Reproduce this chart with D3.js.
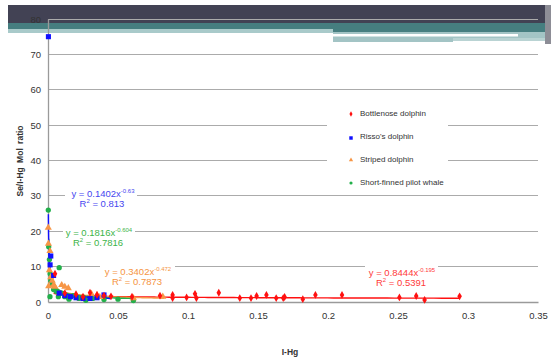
<!DOCTYPE html>
<html><head><meta charset="utf-8">
<script src="https://cdn.jsdelivr.net/npm/d3@7"></script>
<style>html,body{margin:0;padding:0;background:#fff;}svg{display:block;font-family:"Liberation Sans",Arial,sans-serif;}</style>
</head><body><svg id="c" width="551" height="360"></svg>
<script>
// ---- data ----
const seriesNames = ["Bottlenose  dolphin", "Risso's dolphin", "Striped  dolphin", "Short-finned  pilot whale"];
const xTicks = [0, 0.05, 0.1, 0.15, 0.2, 0.25, 0.3, 0.35];
const yTicks = [0, 10, 20, 30, 40, 50, 60, 70, 80];
const bottlenoseX = [0.005, 0.012, 0.02, 0.025, 0.03, 0.035, 0.04, 0.045, 0.06, 0.08, 0.089, 0.089, 0.099, 0.105, 0.106, 0.122, 0.137, 0.145, 0.149, 0.156, 0.163, 0.168, 0.169, 0.182, 0.191, 0.210, 0.251, 0.263, 0.269, 0.294];
const bottlenoseY = [8.0, 2.5, 2.2, 1.5, 2.6, 2.0, 1.8, 1.6, 1.5, 1.8, 2.0, 1.1, 1.3, 2.3, 1.1, 2.6, 1.1, 1.1, 1.7, 2.0, 1.1, 1.1, 1.4, 0.8, 2.0, 2.0, 1.3, 1.7, 0.6, 1.6];
const rissoX = [0.0003, 0.0015, 0.002, 0.004, 0.008, 0.012, 0.016, 0.02, 0.025, 0.03, 0.035, 0.04];
const rissoY = [75.0, 10.5, 13.0, 7.5, 2.5, 1.8, 1.5, 1.2, 1.0, 1.0, 1.2, 2.0];
const stripedX = [0.0002, 0.0003, 0.001, 0.0014, 0.002, 0.003, 0.0005, 0.004, 0.005, 0.0098, 0.012, 0.0145, 0.031, 0.035, 0.037, 0.061, 0.082];
const stripedY = [21.0, 16.5, 9.0, 14.4, 7.0, 6.0, 4.5, 4.8, 4.3, 4.8, 4.3, 3.9, 2.3, 2.0, 1.4, 1.1, 1.5];
const pilotX = [0.0002, 0.0005, 0.001, 0.0014, 0.0015, 0.002, 0.003, 0.004, 0.006, 0.0074, 0.008, 0.01, 0.012, 0.0145, 0.015, 0.018, 0.022, 0.025, 0.027, 0.032, 0.04, 0.05, 0.061];
const pilotY = [26.0, 15.6, 12.0, 1.5, 8.0, 6.0, 5.0, 3.5, 3.0, 1.5, 9.7, 2.5, 1.5, 1.3, 0.8, 1.8, 1.0, 1.4, 0.5, 1.0, 0.7, 0.8, 0.4];
const fitA = [0.8444, 0.1402, 0.3402, 0.1816];
const fitB = [-0.195, -0.63, -0.472, -0.604];
const fitR2 = ["0.5391", "0.813", "0.7873", "0.7816"];
const fitXmin = [0.004, 0.00027, 0.0008, 0.0005];
const fitXmax = [0.294, 0.045, 0.083, 0.062];

// ---- style / layout ----
const colors = ["#ff1010", "#1010ff", "#f79646", "#22b04a"];
const eqColors = ["#ff3a3a", "#4646f0", "#f59442", "#3cb448"];
const shapes = [d3.symbolDiamond, d3.symbolSquare, d3.symbolTriangle, d3.symbolCircle];
const markerSize = [18, 26, 22, 22];

const svg = d3.select("#c");

// header decoration (slide template)
const deco = svg.append("g");
deco.append("rect").attr("x", 8).attr("y", 5).attr("width", 543).attr("height", 18).attr("fill", "#424254");
deco.append("rect").attr("x", 8).attr("y", 23).attr("width", 537).attr("height", 6).attr("fill", "#467e80");
deco.append("rect").attr("x", 333).attr("y", 29).attr("width", 212).attr("height", 3).attr("fill", "#467e80");
deco.append("rect").attr("x", 8).attr("y", 29).attr("width", 325).attr("height", 4).attr("fill", "#a9caca");
deco.append("rect").attr("x", 333).attr("y", 32).attr("width", 212).attr("height", 10).attr("fill", "#a3c4c5");
deco.append("rect").attr("x", 453).attr("y", 38).attr("width", 92).attr("height", 4).attr("fill", "#ffffff");
deco.append("rect").attr("x", 453).attr("y", 38).attr("width", 92).attr("height", 3).attr("fill", "#b9d3d3");
deco.append("rect").attr("x", 333).attr("y", 34).attr("width", 185).attr("height", 2.5).attr("fill", "#ffffff");
deco.append("rect").attr("x", 545).attr("y", 5).attr("width", 6).attr("height", 39).attr("fill", "#8d8d96");

const x = d3.scaleLinear().domain([0, 0.35]).range([48, 538]);
const y = d3.scaleLinear().domain([0, 80]).range([302, 19]);

// gridlines
svg.append("g").selectAll("line").data(yTicks.filter(d => d > 0)).join("line")
  .attr("x1", x(0)).attr("x2", x(0.35)).attr("y1", d => y(d)).attr("y2", d => y(d))
  .attr("stroke", "#ababab").attr("stroke-width", 1).attr("shape-rendering", "crispEdges");

// axes
const yAxis = svg.append("g").attr("transform", `translate(${x(0)},0)`)
  .call(d3.axisLeft(y).tickValues(yTicks).tickSize(0).tickPadding(7).tickFormat(d3.format("d")));
const xAxis = svg.append("g").attr("transform", `translate(0,${y(0)})`)
  .call(d3.axisBottom(x).tickValues(xTicks).tickSize(0).tickPadding(10).tickFormat(d => d === 0 ? "0" : String(d)));
[xAxis, yAxis].forEach(a => {
  a.select(".domain").attr("stroke", "#9a9a9a").attr("stroke-width", 1.3);
  a.selectAll("text").attr("font-size", "9.5px").attr("fill", "#333").attr("font-family", "'Liberation Sans',Arial,sans-serif");
});

// trend lines
const line = d3.line().x(d => x(d[0])).y(d => y(d[1]));
const drawOrder = [0, 2, 3, 1];
drawOrder.forEach(i => {
  const lo = Math.log(fitXmin[i]), hi = Math.log(fitXmax[i]);
  const pts = d3.range(0, 201).map(k => {
    const xv = Math.exp(lo + (hi - lo) * k / 200);
    return [xv, fitA[i] * Math.pow(xv, fitB[i])];
  });
  svg.append("path").datum(pts).attr("d", line).attr("fill", "none")
    .attr("stroke", colors[i]).attr("stroke-width", 1.4);
});

// points
const seriesX = [bottlenoseX, rissoX, stripedX, pilotX];
const seriesY = [bottlenoseY, rissoY, stripedY, pilotY];
[3, 2, 1, 0].forEach(i => {
  const pts = seriesX[i].map((v, k) => [v, seriesY[i][k]]);
  svg.append("g").selectAll("path").data(pts).join("path")
    .attr("transform", d => `translate(${x(d[0])},${y(d[1])})`)
    .attr("d", d3.symbol().type(shapes[i]).size(markerSize[i]))
    .attr("fill", colors[i]);
});

// equation labels
const eqPos = [[402, 272], [103, 193], [138, 271], [99, 232]];
const eqBox = [[365, 263, 73, 24], [65, 186, 72, 22], [100, 262, 75, 24], [63, 224, 72, 22]];
[0, 1, 2, 3].forEach(i => {
  const b = eqBox[i];
  svg.append("rect").attr("x", b[0]).attr("y", b[1]).attr("width", b[2]).attr("height", b[3]).attr("fill", "#fff");
  const t = svg.append("text").attr("x", eqPos[i][0]).attr("y", eqPos[i][1] + 3.5)
    .attr("text-anchor", "middle").attr("font-size", "9.5px").attr("fill", eqColors[i]);
  t.append("tspan").text(`y = ${fitA[i]}x`);
  t.append("tspan").attr("dy", -4).attr("font-size", "6px").text(String(fitB[i]));
  const r = svg.append("text").attr("x", eqPos[i][0] - 1).attr("y", eqPos[i][1] + 14)
    .attr("text-anchor", "middle").attr("font-size", "9.5px").attr("fill", eqColors[i]);
  r.append("tspan").text("R");
  r.append("tspan").attr("dy", -4).attr("font-size", "6px").text("2");
  r.append("tspan").attr("dy", 4).text(` = ${fitR2[i]}`);
});

// legend
const lg = svg.append("g");
lg.append("rect").attr("x", 327).attr("y", 100).attr("width", 121).attr("height", 90).attr("fill", "#fff");
seriesNames.forEach((n, i) => {
  const ly = 113 + i * 23;
  lg.append("path").attr("transform", `translate(351,${ly + (i === 1 ? 2 : 1)})`)
    .attr("d", d3.symbol().type(shapes[i]).size(i === 1 ? 12 : 8)).attr("fill", colors[i]);
  lg.append("text").attr("x", 360).attr("y", ly + 3).attr("font-size", "8px").attr("fill", "#333").text(n);
});

// axis titles
svg.append("text").attr("x", 290).attr("y", 355).attr("text-anchor", "middle")
  .attr("font-size", "8.5px").attr("font-weight", "bold").attr("fill", "#333").text("I-Hg");
svg.append("text").attr("transform", "translate(23,161) rotate(-90)").attr("text-anchor", "middle")
  .attr("font-size", "8.5px").attr("font-weight", "bold").attr("fill", "#333").attr("word-spacing", "2px").text("Se/I-Hg  Mol  ratio");
</script>
</body></html>
